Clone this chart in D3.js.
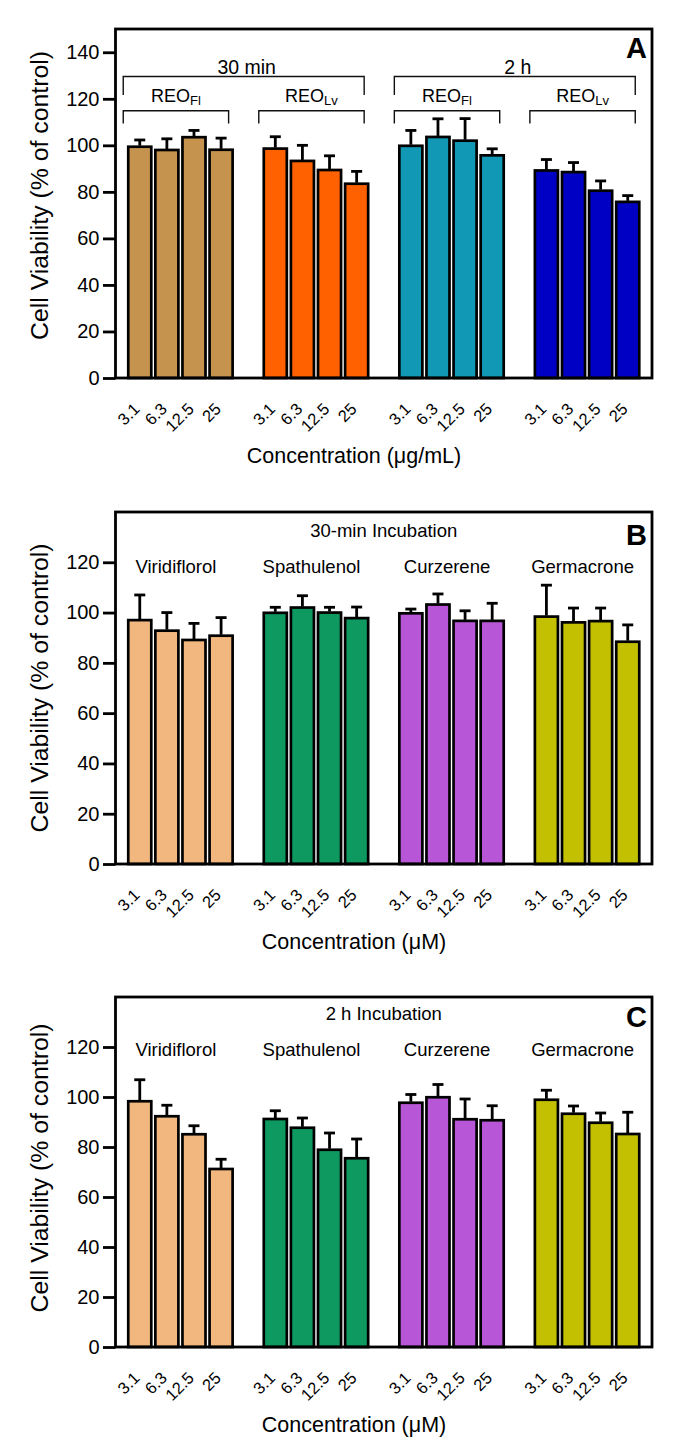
<!DOCTYPE html>
<html>
<head>
<meta charset="utf-8">
<script src="https://cdn.jsdelivr.net/npm/d3@7"></script>
<style>
  html, body { margin: 0; padding: 0; background: #ffffff; }
  svg { display: block; }
  text { font-family: "Liberation Sans", Arial, Helvetica, sans-serif; fill: #000; }
</style>
</head>
<body>
<svg id="chart" width="687" height="1448"></svg>
<script>
// ---------------- DATA ----------------
const concLabels = ["3.1", "6.3", "12.5", "25"];

// Panel A (REO, µg/mL)
const panelAGroups = ["30min-Fl", "30min-Lv", "2h-Fl", "2h-Lv"];
const a30FlMean = [99.4, 98.0, 103.5, 98.1];
const a30FlSD   = [2.9, 4.8, 2.9, 5.0];
const a30LvMean = [98.6, 93.3, 89.4, 83.5];
const a30LvSD   = [5.1, 6.7, 6.1, 5.3];
const a2hFlMean = [99.8, 103.6, 102.0, 95.7];
const a2hFlSD   = [6.6, 7.8, 9.5, 2.8];
const a2hLvMean = [89.2, 88.5, 80.5, 75.7];
const a2hLvSD   = [4.7, 4.1, 4.2, 2.7];
const panelATimeLabels = ["30 min", "2 h"];
const panelASubLabels = [["REO", "Fl"], ["REO", "Lv"], ["REO", "Fl"], ["REO", "Lv"]];
const panelAColors = ["#C6934F", "#FF6100", "#1198B4", "#0000C4"];
const panelATicks = [0, 20, 40, 60, 80, 100, 120, 140];

// Panels B and C (compounds, µM)
const compounds = ["Viridiflorol", "Spathulenol", "Curzerene", "Germacrone"];
const compoundColors = ["#F2B77F", "#0E9960", "#B756D6", "#C2C000"];
const bcTicks = [0, 20, 40, 60, 80, 100, 120];

const bViridiflorolMean = [97.0, 92.8, 89.1, 90.8];
const bViridiflorolSD   = [10.0, 7.2, 6.6, 7.2];
const bSpathulenolMean  = [99.9, 102.0, 100.0, 97.8];
const bSpathulenolSD    = [2.2, 4.7, 2.1, 4.4];
const bCurzereneMean    = [99.7, 103.2, 96.7, 96.7];
const bCurzereneSD      = [1.7, 4.2, 4.0, 7.0];
const bGermacroneMean   = [98.4, 96.1, 96.6, 88.4];
const bGermacroneSD     = [12.5, 5.7, 5.2, 6.7];

const cViridiflorolMean = [98.3, 92.3, 85.1, 71.2];
const cViridiflorolSD   = [8.6, 4.4, 3.4, 3.9];
const cSpathulenolMean  = [91.2, 87.7, 78.9, 75.5];
const cSpathulenolSD    = [3.3, 3.9, 6.7, 7.7];
const cCurzereneMean    = [97.7, 99.9, 91.1, 90.7];
const cCurzereneSD      = [3.3, 5.1, 8.1, 5.8];
const cGermacroneMean   = [98.9, 93.3, 89.7, 85.2];
const cGermacroneSD     = [3.8, 3.1, 3.9, 8.7];

// ---------------- DRAWING ----------------
const svg = d3.select("#chart");
const FONT_TICK = 20, FONT_XT = 16.5, FONT_TITLE = 21.5, FONT_YLAB = 24.8, FONT_LAB = 18.5;
const STROKE = 2.8;
const left = 115.5, right = 652;

function buildKeys(nGroups) {
  const keys = [];
  for (let g = 0; g < nGroups; g++) {
    for (let j = 0; j < concLabels.length; j++) keys.push(`g${g}-${j}`);
    if (g < nGroups - 1) keys.push(`s${g}`);
  }
  return keys;
}

function drawPanel(cfg) {
  const root = svg.append("g");
  const keys = buildKeys(cfg.means.length);
  const barKeys = keys.filter(k => k[0] === "g");
  const x = d3.scaleBand().domain(keys).range([left, right]).paddingInner(0.15).paddingOuter(0.47);
  const y = d3.scaleLinear().domain([0, cfg.yMax]).range([cfg.bottom, cfg.top]);

  const rows = [];
  cfg.means.forEach((arr, g) => arr.forEach((v, j) => rows.push({
    key: `g${g}-${j}`, g, j, mean: v, sd: cfg.sds[g][j], color: cfg.colors[g]
  })));

  // bars
  root.append("g").selectAll("rect").data(rows).join("rect")
    .attr("x", d => x(d.key)).attr("width", x.bandwidth())
    .attr("y", d => y(d.mean)).attr("height", d => y(0) - y(d.mean))
    .attr("fill", d => d.color).attr("stroke", "#000").attr("stroke-width", 2.7);

  // error bars (upper)
  const eb = root.append("g").attr("stroke", "#000").attr("stroke-width", 2.8).attr("fill", "none");
  eb.selectAll("line.v").data(rows).join("line").attr("class", "v")
    .attr("x1", d => x(d.key) + x.bandwidth() / 2).attr("x2", d => x(d.key) + x.bandwidth() / 2)
    .attr("y1", d => y(d.mean) - 1).attr("y2", d => y(d.mean + d.sd));
  eb.selectAll("line.c").data(rows).join("line").attr("class", "c")
    .attr("x1", d => x(d.key) + x.bandwidth() / 2 - 5.5).attr("x2", d => x(d.key) + x.bandwidth() / 2 + 5.5)
    .attr("y1", d => y(d.mean + d.sd)).attr("y2", d => y(d.mean + d.sd));

  // y axis
  const yAxis = root.append("g").attr("transform", `translate(${left},0)`)
    .call(d3.axisLeft(y).tickValues(cfg.ticks).tickSize(12.5).tickPadding(3.5).tickFormat(d3.format("d")));
  yAxis.select(".domain").remove();
  yAxis.selectAll(".tick line").attr("stroke", "#000").attr("stroke-width", STROKE);
  yAxis.selectAll(".tick text").attr("font-size", FONT_TICK).attr("fill", "#000")
    .style("font-family", '"Liberation Sans", Arial, sans-serif');

  // x axis labels (rotated)
  const xAxis = root.append("g").attr("transform", `translate(0,${cfg.bottom})`)
    .call(d3.axisBottom(x).tickValues(barKeys).tickSize(0).tickFormat(k => concLabels[+k.split("-")[1]]));
  xAxis.select(".domain").remove();
  xAxis.selectAll(".tick text")
    .attr("x", 0).attr("y", 0).attr("dy", null)
    .attr("transform", "translate(1,32) rotate(-45)")
    .attr("text-anchor", "end").attr("font-size", FONT_XT).attr("fill", "#000")
    .style("font-family", '"Liberation Sans", Arial, sans-serif');

  // frame
  root.append("rect").attr("x", left).attr("y", cfg.top).attr("width", right - left)
    .attr("height", cfg.bottom - cfg.top).attr("fill", "none").attr("stroke", "#000").attr("stroke-width", STROKE);

  // panel letter
  root.append("text").attr("x", 647).attr("y", cfg.letterY).attr("text-anchor", "end")
    .attr("font-size", 29).attr("font-weight", "bold").text(cfg.letter);

  // y label
  root.append("text")
    .attr("transform", `translate(48,${(cfg.top + cfg.bottom) / 2 + cfg.yLabelShift}) rotate(-90)`)
    .attr("text-anchor", "middle").attr("font-size", FONT_YLAB).text("Cell Viability (% of control)");

  // x title
  root.append("text").attr("x", 354).attr("y", cfg.bottom + 85)
    .attr("text-anchor", "middle").attr("font-size", FONT_TITLE).text(cfg.xTitle);

  return { x, y, root };
}

function groupExtent(x, g) {
  const first = x(`g${g}-0`), last = x(`g${g}-${concLabels.length - 1}`) + x.bandwidth();
  return [first - 5, last - 4];
}

// ---- Panel A ----
const A = drawPanel({
  top: 29, bottom: 378, yMax: 150, ticks: panelATicks,
  means: [a30FlMean, a30LvMean, a2hFlMean, a2hLvMean],
  sds: [a30FlSD, a30LvSD, a2hFlSD, a2hLvSD],
  colors: panelAColors, letter: "A", letterY: 58, yLabelShift: -8,
  xTitle: "Concentration (\u03BCg/mL)"
});
{
  const br = A.root.append("g").attr("stroke", "#111").attr("stroke-width", 1.4).attr("fill", "none");
  panelAGroups.forEach((grp, g) => {
    const [l, r] = groupExtent(A.x, g);
    br.append("path").attr("d", `M${l},123.5V110.7H${r}V123.5`);
    const t = A.root.append("text").attr("x", (l + r) / 2).attr("y", 101.7)
      .attr("text-anchor", "middle").attr("font-size", 18);
    t.append("tspan").text(panelASubLabels[g][0]);
    t.append("tspan").attr("font-size", 13).attr("dy", 3.5).text(panelASubLabels[g][1]);
  });
  panelATimeLabels.forEach((lab, i) => {
    const l = groupExtent(A.x, i * 2)[0], r = groupExtent(A.x, i * 2 + 1)[1];
    br.append("path").attr("d", `M${l},95V76.5H${r}V95`);
    A.root.append("text").attr("x", (l + r) / 2 + 3).attr("y", 73.5)
      .attr("text-anchor", "middle").attr("font-size", 19.5).text(lab);
  });
}

// ---- Panel B ----
const B = drawPanel({
  top: 512, bottom: 864, yMax: 140, ticks: bcTicks,
  means: [bViridiflorolMean, bSpathulenolMean, bCurzereneMean, bGermacroneMean],
  sds: [bViridiflorolSD, bSpathulenolSD, bCurzereneSD, bGermacroneSD],
  colors: compoundColors, letter: "B", letterY: 545, yLabelShift: 0,
  xTitle: "Concentration (\u03BCM)"
});
B.root.append("text").attr("x", (left + right) / 2).attr("y", 536.5).attr("text-anchor", "middle")
  .attr("font-size", FONT_LAB).text("30-min Incubation");
compounds.forEach((c, g) => {
  const [l, r] = groupExtent(B.x, g);
  B.root.append("text").attr("x", (l + r) / 2).attr("y", 572.5).attr("text-anchor", "middle")
    .attr("font-size", FONT_LAB).text(c);
});

// ---- Panel C ----
const C = drawPanel({
  top: 997, bottom: 1347, yMax: 140, ticks: bcTicks,
  means: [cViridiflorolMean, cSpathulenolMean, cCurzereneMean, cGermacroneMean],
  sds: [cViridiflorolSD, cSpathulenolSD, cCurzereneSD, cGermacroneSD],
  colors: compoundColors, letter: "C", letterY: 1027, yLabelShift: -4,
  xTitle: "Concentration (\u03BCM)"
});
C.root.append("text").attr("x", (left + right) / 2).attr("y", 1020).attr("text-anchor", "middle")
  .attr("font-size", FONT_LAB).text("2 h Incubation");
compounds.forEach((c, g) => {
  const [l, r] = groupExtent(C.x, g);
  C.root.append("text").attr("x", (l + r) / 2).attr("y", 1056).attr("text-anchor", "middle")
    .attr("font-size", FONT_LAB).text(c);
});
</script>
</body>
</html>
